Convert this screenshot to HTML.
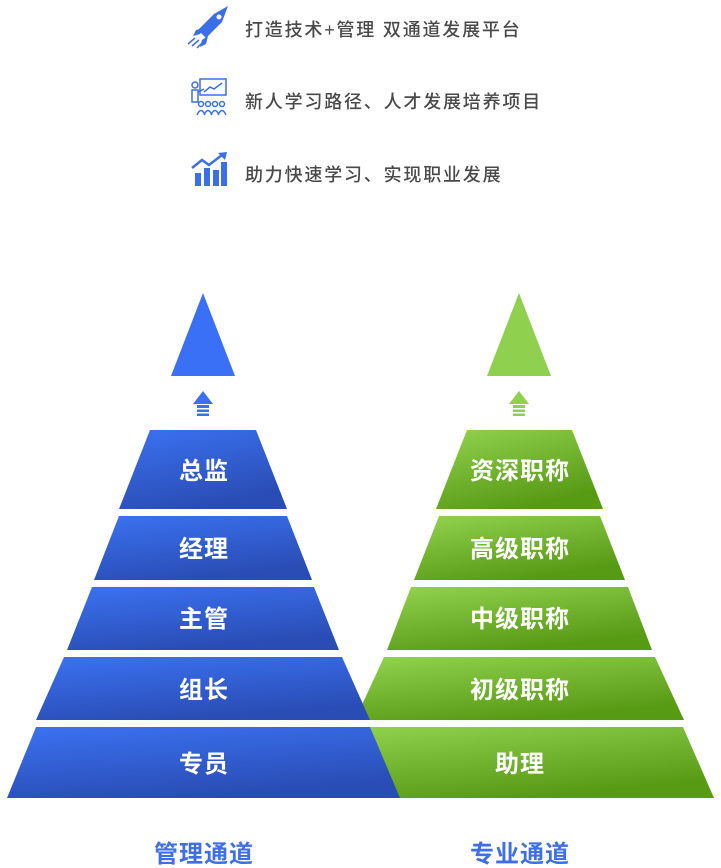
<!DOCTYPE html>
<html><head><meta charset="utf-8">
<style>
html,body{margin:0;padding:0;background:#fff;}
body{width:721px;height:868px;overflow:hidden;position:relative;font-family:"Liberation Sans","Noto Sans CJK SC",sans-serif;}
.t{position:absolute;left:245px;font-size:18px;color:#4a4a4a;letter-spacing:1.8px;line-height:20px;font-weight:500;white-space:nowrap;}
</style></head><body>
<div class="t" style="top:20px">打造技术+管理 双通道发展平台</div>
<div class="t" style="top:92px">新人学习路径、人才发展培养项目</div>
<div class="t" style="top:165px">助力快速学习、实现职业发展</div>
<svg width="721" height="868" style="position:absolute;left:0;top:0" xmlns="http://www.w3.org/2000/svg">
<defs>
<linearGradient id="b" x1="0" y1="0" x2="0.4" y2="1"><stop offset="0" stop-color="#3b72f2"/><stop offset="1" stop-color="#2a4db5"/></linearGradient>
<linearGradient id="g" x1="0" y1="0" x2="0.5" y2="1"><stop offset="0" stop-color="#93d34f"/><stop offset="1" stop-color="#579a14"/></linearGradient>
</defs>
<g fill="#3b6fe8">
<path d="M228 6 L222 22 L206 38 L198 30 L214 14 Z"/>
<circle cx="219" cy="17" r="2.5" fill="#fff"/>
<path d="M204 28 L196 30 L193 36 L200 34 Z M208 36 L206 44 L200 47 L202 40 Z"/>
<path d="M188 44 L195 38 M192 46 L199 40 M197 48 L202 43" stroke="#3b6fe8" stroke-width="1.5"/>
</g>
<g fill="none" stroke="#3b6fe8" stroke-width="1.5">
<rect x="200" y="79" width="26" height="16"/>
<path d="M204 92 L210 87 L214 89 L222 83"/>
<circle cx="195" cy="85" r="3"/><path d="M192 90 h6 v12 h-6z M198 92 L204 89"/>
<circle cx="201" cy="104" r="2.5"/><circle cx="208" cy="104" r="2.5"/><circle cx="215" cy="104" r="2.5"/><circle cx="222" cy="104" r="2.5"/>
<path d="M197 115 q4 -9 8 0 M204 115 q4 -9 8 0 M211 115 q4 -9 8 0 M218 115 q4 -9 8 0"/>
</g>
<g fill="#3b6fe8">
<rect x="195" y="173" width="6" height="13"/><rect x="204" y="168" width="6" height="18"/><rect x="213" y="170" width="6" height="16"/><rect x="221" y="162" width="6" height="24"/>
<path d="M192 168 L202 160 L209 165 L222 155" fill="none" stroke="#3b6fe8" stroke-width="2.5"/>
<path d="M218 153 L227 152 L225 160 Z"/>
</g>
<polygon points="203,293 235,376 171,376" fill="#3a70f5"/>
<polygon points="519,293 551,376 487,376" fill="#8fd04e"/>
<polygon points="203,391 213,404 193,404" fill="#3a70f5"/>
<rect x="197" y="405" width="12" height="3" fill="#3a70f5"/><rect x="197" y="409.5" width="12" height="2.5" fill="#3a70f5"/><rect x="197" y="413.5" width="12" height="2.5" fill="#3a70f5"/>
<polygon points="519,391 529,404 509,404" fill="#8fd04e"/>
<rect x="513" y="405" width="12" height="3" fill="#8fd04e"/><rect x="513" y="409.5" width="12" height="2.5" fill="#8fd04e"/><rect x="513" y="413.5" width="12" height="2.5" fill="#8fd04e"/>
<g fill="url(#g)">
<polygon points="467,430 572,430 603,509 436,509"/>
<polygon points="439,516 600,516 625,580 414,580"/>
<polygon points="411,587 628,587 652,650 387,650"/>
<polygon points="384,657 655,657 684,720 355,720"/>
<polygon points="356,727 683,727 714,798 325,798"/>
</g>
<g fill="url(#b)">
<polygon points="150,430 256,430 287,509 119,509"/>
<polygon points="119,516 287,516 312,580 94,580"/>
<polygon points="92,587 314,587 339,650 67,650"/>
<polygon points="64,657 342,657 370,720 36,720"/>
<polygon points="36,727 370,727 400,798 7,798"/>
</g>
<g fill="#fff" font-size="24" font-weight="bold" text-anchor="middle" letter-spacing="1" font-family="Liberation Sans, Noto Sans CJK SC, sans-serif">
<text x="204" y="479">总监</text><text x="204" y="557">经理</text><text x="204" y="627">主管</text><text x="204" y="698">组长</text><text x="204" y="772">专员</text>
<text x="520" y="479">资深职称</text><text x="520" y="557">高级职称</text><text x="520" y="627">中级职称</text><text x="520" y="698">初级职称</text><text x="520" y="772">助理</text>
</g>
<g fill="#3f6fe8" font-size="24" font-weight="bold" text-anchor="middle" letter-spacing="1" font-family="Liberation Sans, Noto Sans CJK SC, sans-serif">
<text x="204" y="862">管理通道</text><text x="520" y="862">专业通道</text>
</g>
</svg>
</body></html>
